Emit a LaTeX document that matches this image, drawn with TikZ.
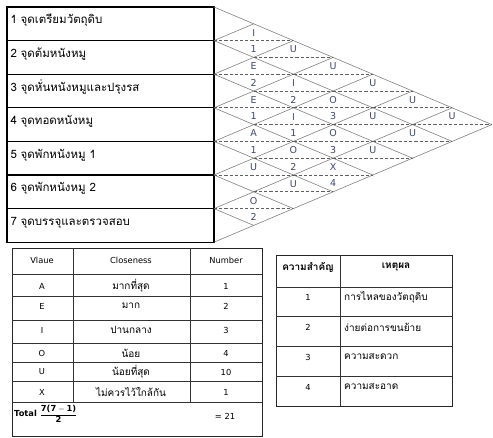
\documentclass[tikz,border=0pt]{standalone}
\usepackage{amsmath}
\usepackage{fontspec}
\setmainfont[Script=Thai]{Loma}
\newfontfamily\latinfont{DejaVu Sans}
\usetikzlibrary{positioning}

\definecolor{relblue}{RGB}{62,72,105}
\definecolor{gridgray}{RGB}{128,128,128}
\definecolor{dashgray}{RGB}{95,95,95}

\def\relw{39.7}
\def\relh{16.8}

\tikzset{
  dept/.style={draw, line width=1.3pt, outer sep=0pt, inner sep=0pt,
    minimum width=207pt, minimum height=33.6pt, text width=200pt, align=left,
    text height=6pt, text depth=6pt, font=\fontsize{11.5}{14}\selectfont},
  relline/.style={gridgray, line width=0.6pt},
  reldash/.style={dashgray, line width=0.7pt, dash pattern=on 3.2pt off 2pt},
  rellabel/.style={relblue, inner sep=0pt, font=\latinfont\fontsize{9.5}{11}\selectfont},
  tabline/.style={line width=0.7pt, black!80},
  tabframe/.style={line width=1pt, black!85},
  tabtext/.style={inner sep=0pt, font=\fontsize{10}{12}\selectfont},
  tablatin/.style={inner sep=0pt, font=\latinfont\fontsize{8.3}{10}\selectfont},
  tabhead/.style={inner sep=0pt, font=\fontsize{10}{12}\selectfont\bfseries}
}

\begin{document}
\begin{tikzpicture}[x=1pt,y=-1pt]
\useasboundingbox (0,0) rectangle (493,437);

% departments
\node[dept, anchor=north west] (d1) at (7,7) {1 จุดเตรียมวัตถุดิบ};
\node[dept, below=0pt of d1] (d2) {2 จุดต้มหนังหมู};
\node[dept, below=0pt of d2] (d3) {3 จุดหั่นหนังหมูและปรุงรส};
\node[dept, below=0pt of d3] (d4) {4 จุดทอดหนังหมู};
\node[dept, below=0pt of d4] (d5) {5 จุดพักหนังหมู 1};
\node[dept, below=0pt of d5] (d6) {6 จุดพักหนังหมู 2};
\node[dept, below=0pt of d6] (d7) {7 จุดบรรจุและตรวจสอบ};

\coordinate (L0) at (d1.north east);
\foreach \k in {1,...,7}
  \coordinate (L\k) at (d\k.south east);

% relationship chart grid
\foreach \k in {0,...,7}{
  \draw[relline] (L\k) -- ++({(7-\k)*\relw},{(7-\k)*\relh});
  \draw[relline] (L\k) -- ++({\k*\relw},{-\k*\relh});
}

% closeness of each pair
\foreach \i/\j/\v in {1/2/I,1/3/U,1/4/U,1/5/U,1/6/U,1/7/U,
    2/3/E,2/4/I,2/5/O,2/6/U,2/7/U,
    3/4/E,3/5/I,3/6/O,3/7/U,
    4/5/A,4/6/O,4/7/X,
    5/6/U,5/7/U,
    6/7/O}{
  \pgfmathsetmacro\cx{214+(\j-\i)*\relw}
  \pgfmathsetmacro\cy{7+(\i+\j-1)*\relh}
  \draw[reldash] ({\cx-\relw},\cy) -- ({\cx+\relw},\cy);
  \node[rellabel] (r\i\j) at (\cx,\cy-8) {\v};
}

% reasons
\foreach \i/\j/\n in {1/2/1,2/3/2,2/4/2,3/4/1,2/5/3,3/5/1,
    4/5/1,3/6/3,4/6/2,4/7/4,6/7/2}{
  \pgfmathsetmacro\cx{214+(\j-\i)*\relw}
  \pgfmathsetmacro\cy{7+(\i+\j-1)*\relh}
  \node[rellabel] (n\i\j) at (\cx,\cy+8.5) {\n};
}

% closeness table
\draw[tabframe] (12,248) rectangle (262,436);
\foreach \y in {274,296,320,343,362,381,402}
  \draw[tabline] (12,\y) -- (262,\y);
\draw[tabline] (73,248) -- (73,402);
\draw[tabline] (190,248) -- (190,402);

\node[tablatin] (hv) at (42,260) {Vlaue};
\node[tablatin] (hc) at (131,260) {Closeness};
\node[tablatin] (hn) at (226,260) {Number};
\foreach \y/\v/\c/\n [count=\r] in {286/A/มากที่สุด/1, 306/E/มาก/2,
    330/I/ปานกลาง/3, 353/O/น้อย/4, 372/U/น้อยที่สุด/10, 392/X/ไม่ควรไว้ใกล้กัน/1}{
  \node[tablatin] (v\r) at (42,\y) {\v};
  \node[tabtext] (c\r) at (131,\y) {\c};
  \node[tablatin] (k\r) at (226,\y) {\n};
}
\node[tablatin, anchor=west] (total) at (14,414)
  {\bfseries Total $\dfrac{\mbox{\latinfont\bfseries 7(7}-\mbox{\latinfont\bfseries 1)}}{\mbox{\latinfont\bfseries 2}}$};
\node[tablatin] (sum) at (225,416) {= 21};

% reason table
\draw[tabframe] (276,255) rectangle (452,406);
\foreach \y in {287,316,346,376}
  \draw[tabline] (276,\y) -- (452,\y);
\draw[tabline] (340,255) -- (340,406);

\node[tabhead] (hi) at (308,267) {ความสำคัญ};
\node[tabhead] (hr) at (396,267) {เหตุผล};
\foreach \y/\n/\t in {297/1/การไหลของวัตถุดิบ, 327/2/ง่ายต่อการขนย้าย,
    357/3/ความสะดวก, 387/4/ความสะอาด}{
  \node[tablatin] (p\n) at (308,\y) {\n};
  \node[tabtext, anchor=west] (t\n) at (344,\y) {\t};
}
\end{tikzpicture}
\end{document}
